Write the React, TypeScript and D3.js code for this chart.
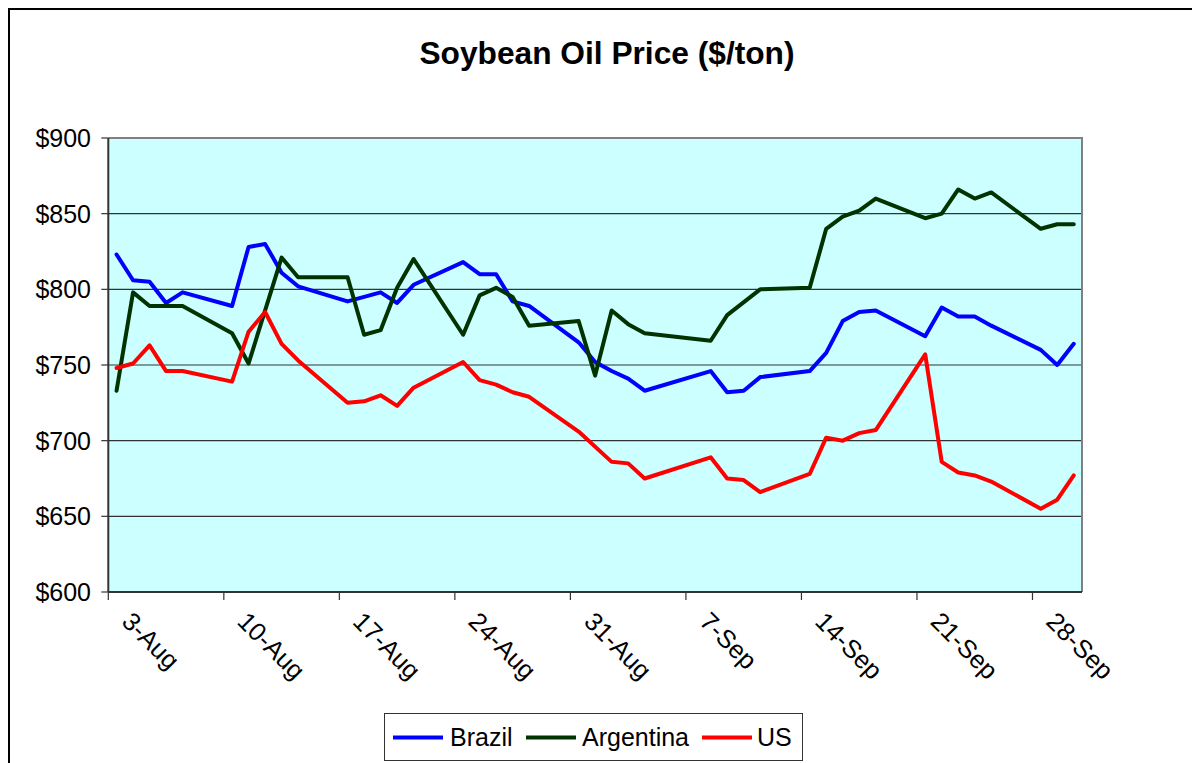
import React from "react";
import * as d3 from "d3";

// trading days shown on the chart (weekdays, Labor Day missing)
const dates = [
  "2009-08-03", "2009-08-04", "2009-08-05", "2009-08-06", "2009-08-07",
  "2009-08-10", "2009-08-11", "2009-08-12", "2009-08-13", "2009-08-14",
  "2009-08-17", "2009-08-18", "2009-08-19", "2009-08-20", "2009-08-21",
  "2009-08-24", "2009-08-25", "2009-08-26", "2009-08-27", "2009-08-28",
  "2009-08-31", "2009-09-01", "2009-09-02", "2009-09-03", "2009-09-04",
  "2009-09-08", "2009-09-09", "2009-09-10", "2009-09-11",
  "2009-09-14", "2009-09-15", "2009-09-16", "2009-09-17", "2009-09-18",
  "2009-09-21", "2009-09-22", "2009-09-23", "2009-09-24", "2009-09-25",
  "2009-09-28", "2009-09-29", "2009-09-30"
];

const brazil = [
  823, 806, 805, 791, 798,
  789, 828, 830, 811, 802,
  792, 795, 798, 791, 803,
  818, 810, 810, 792, 789,
  765, 752, 746, 741, 733,
  746, 732, 733, 742,
  746, 758, 779, 785, 786,
  769, 788, 782, 782, 776,
  760, 750, 764
];

const argentina = [
  733, 798, 789, null, 789,
  771, 751, null, 821, 808,
  808, 770, 773, 801, 820,
  770, 796, 801, 795, 776,
  779, 743, 786, 777, 771,
  766, 783, null, 800,
  801, 840, 848, 852, 860,
  847, 850, 866, 860, 864,
  840, 843, 843
];

const us = [
  748, 751, 763, 746, 746,
  739, 772, 785, 764, 753,
  725, 726, 730, 723, 735,
  752, 740, 737, 732, 729,
  706, null, 686, 685, 675,
  689, 675, 674, 666,
  678, 702, 700, 705, 707,
  757, 686, 679, 677, 673,
  655, 661, 677
];

const seriesNames = ["Brazil", "Argentina", "US"];
const seriesColors = ["#0000ff", "#003300", "#ff0000"];
const seriesValues = [brazil, argentina, us];

const tickDates = [
  "2009-08-03", "2009-08-10", "2009-08-17", "2009-08-24", "2009-08-31",
  "2009-09-07", "2009-09-14", "2009-09-21", "2009-09-28"
];
const yTicks = [600, 650, 700, 750, 800, 850, 900];

const FONT = "'Liberation Sans', Arial, Helvetica, sans-serif";

export default function App() {
  const parse = d3.timeParse("%Y-%m-%d");
  const fmtDate = d3.timeFormat("%-d-%b");
  const fmtY = d3.format("$,.0f");

  const left = 108.3, right = 1082, top = 138, bottom = 592;

  const x = d3
    .scaleTime()
    .domain([parse("2009-08-03")!, parse("2009-10-01")!])
    .range([left, right]);
  const y = d3.scaleLinear().domain([600, 900]).range([bottom, top]);

  // points sit in the middle of their day
  const mid = (s: string) => d3.timeHour.offset(parse(s)!, 12);

  const line = d3
    .line<{ d: Date; v: number }>()
    .x(p => x(p.d))
    .y(p => y(p.v));

  const series = seriesValues.map(vals =>
    dates
      .map((s, i) => ({ d: mid(s), v: vals[i] as number }))
      .filter(p => p.v != null)
  );

  const legendItems = [
    { lx: 393, tx: 450 },
    { lx: 526, tx: 582 },
    { lx: 702, tx: 757 }
  ];

  return (
    <svg
      width={1192}
      height={763}
      style={{ position: "absolute", left: 0, top: 0, background: "#fff" }}
    >
      {/* chart frame */}
      <rect x={9} y={9} width={1300} height={1000} fill="#fff" stroke="#000" strokeWidth={2} />

      <text
        x={607}
        y={64}
        textAnchor="middle"
        fontFamily={FONT}
        fontWeight="bold"
        fontSize={31.7}
      >
        Soybean Oil Price ($/ton)
      </text>

      {/* plot area */}
      <rect x={left} y={top} width={right - left} height={bottom - top} fill="#ccffff" />

      {yTicks.slice(1, -1).map(t => (
        <line key={t} x1={left} x2={right} y1={y(t)} y2={y(t)} stroke="#333" strokeWidth={1.2} />
      ))}

      <path
        d={`M${left},${top}H${right}V${bottom}`}
        fill="none"
        stroke="#808080"
        strokeWidth={2}
      />

      {/* y axis */}
      <line x1={left} x2={left} y1={top} y2={bottom} stroke="#333" strokeWidth={2} />
      {yTicks.map(t => (
        <g key={t}>
          <line x1={left - 7} x2={left} y1={y(t)} y2={y(t)} stroke="#333" strokeWidth={1.2} />
          <text
            x={91}
            y={y(t)}
            dy="0.36em"
            textAnchor="end"
            fontFamily={FONT}
            fontSize={25}
          >
            {fmtY(t)}
          </text>
        </g>
      ))}

      {/* x axis */}
      <line x1={left} x2={right} y1={bottom} y2={bottom} stroke="#333" strokeWidth={2} />
      {tickDates.map(s => {
        const tx = x(parse(s)!);
        return (
          <g key={s}>
            <line x1={tx} x2={tx} y1={bottom} y2={bottom + 8} stroke="#333" strokeWidth={1.2} />
            <text
              transform={`translate(${x(mid(s)) + 4},${623}) rotate(45)`}
              fontFamily={FONT}
              fontSize={25.5}
            >
              {fmtDate(parse(s)!)}
            </text>
          </g>
        );
      })}

      {series.map((pts, i) => (
        <path
          key={seriesNames[i]}
          d={line(pts) || ""}
          fill="none"
          stroke={seriesColors[i]}
          strokeWidth={4}
          strokeLinejoin="round"
          strokeLinecap="round"
        />
      ))}

      {/* legend */}
      <rect x={384.5} y={713.5} width={418} height={47} fill="#fff" stroke="#333" strokeWidth={1} />
      {seriesNames.map((name, i) => (
        <g key={name}>
          <line
            x1={legendItems[i].lx}
            x2={legendItems[i].lx + 50}
            y1={737.5}
            y2={737.5}
            stroke={seriesColors[i]}
            strokeWidth={4}
          />
          <text
            x={legendItems[i].tx}
            y={746}
            fontFamily={FONT}
            fontSize={25}
          >
            {name}
          </text>
        </g>
      ))}
    </svg>
  );
}
